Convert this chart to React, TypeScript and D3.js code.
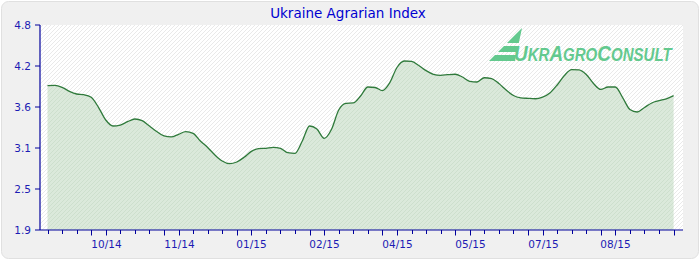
import React, { useEffect } from "react";
import * as d3 from "d3";

// Index values sampled along the period (two samples per axis tick)
const values: number[] = [
  3.941, 3.947, 3.919, 3.862, 3.824, 3.814, 3.777, 3.636, 3.456, 3.371,
  3.385, 3.432, 3.470, 3.446, 3.371, 3.293, 3.230, 3.216, 3.254, 3.291,
  3.268, 3.159, 3.067, 2.961, 2.876, 2.838, 2.862, 2.928, 3.013, 3.050,
  3.056, 3.070, 3.056, 2.994, 2.985, 3.159, 3.371, 3.329, 3.197, 3.322,
  3.598, 3.692, 3.697, 3.796, 3.923, 3.916, 3.871, 3.980, 4.199, 4.291,
  4.284, 4.227, 4.154, 4.103, 4.088, 4.097, 4.103, 4.064, 4.004, 3.994,
  4.054, 4.043, 3.972, 3.880, 3.803, 3.770, 3.762, 3.757, 3.779, 3.838,
  3.951, 4.086, 4.170, 4.166, 4.100, 3.972, 3.888, 3.923, 3.923, 3.774,
  3.605, 3.569, 3.633, 3.697, 3.729, 3.756, 3.800,
];

// One entry per axis tick (44 ticks); labelled ticks carry month/year
const tickLabels: string[] = [
  "", "", "", "", "10/14", "", "", "", "", "11/14",
  "", "", "", "", "01/15", "", "", "", "", "02/15",
  "", "", "", "", "04/15", "", "", "", "", "05/15",
  "", "", "", "", "07/15", "", "", "", "", "08/15",
  "", "", "", "",
];

const yTickValues: number[] = [1.9, 2.48, 3.06, 3.64, 4.22, 4.8];
const yTickLabels: string[] = ["1.9", "2.5", "3.1", "3.6", "4.2", "4.8"];

const title = "Ukraine Agrarian Index";
const logoParts: [string, boolean][] = [
  ["U", true], ["KR", false], ["A", true], ["GRO", false], ["C", true], ["ONSULT", false],
];

const W = 700;
const H = 260;
const plotLeft = 40;
const plotRight = 683;
const plotTop = 25;
const plotBottom = 230;

const axisColor = "#00009c";
const textColor = "#1c1cb4";
const font = "DejaVu Sans, Verdana, sans-serif";

export default function App() {
  useEffect(() => {
    document.body.style.margin = "0";
  }, []);

  const x = d3.scaleLinear().domain([0, values.length - 1]).range([47.5, 673.6]);
  const y = d3.scaleLinear().domain([1.9, 4.8]).range([plotBottom, plotTop]);

  const idx = values.map((_, i) => i);
  const area = d3
    .area<number>()
    .x((i) => x(i))
    .y0(plotBottom)
    .y1((i) => y(values[i]))
    .curve(d3.curveMonotoneX);
  const line = d3
    .line<number>()
    .x((i) => x(i))
    .y((i) => y(values[i]))
    .curve(d3.curveMonotoneX);

  // logo icon stripes
  const ax = 522, ay = 28, by = 61, bl = 489, br = 515;
  const xl = (yy: number) => ax - ((yy - ay) * (ax - bl)) / (by - ay);
  const xr = (yy: number) => ax - ((yy - ay) * (ax - br)) / (by - ay);
  const stripes = [
    [28, 43],
    [46, 52],
    [55, 61],
  ].map(([a, b]) =>
    a === ay
      ? `M${ax},${ay} L${xr(b)},${b} L${xl(b)},${b} Z`
      : `M${xl(a)},${a} L${xr(a)},${a} L${xr(b)},${b} L${xl(b)},${b} Z`
  );

  const sx = 0.86;

  return (
    <svg width={W} height={H} style={{ display: "block" }}>
      <defs>
        <pattern id="hatchW" width="4" height="4" patternUnits="userSpaceOnUse">
          <rect width="4" height="4" fill="#ffffff" />
          <path d="M-1,1 l2,-2 M0,4 l4,-4 M3,5 l2,-2" stroke="#e9e9e9" strokeWidth="1" />
        </pattern>
        <pattern id="hatchG" width="4" height="4" patternUnits="userSpaceOnUse">
          <rect width="4" height="4" fill="#dbe9db" />
          <path d="M-1,1 l2,-2 M0,4 l4,-4 M3,5 l2,-2" stroke="#cddfcd" strokeWidth="1" />
        </pattern>
      </defs>
      <rect x={1.5} y={1.5} width={W - 3} height={H - 3} rx={7} fill="#f0f0f0" stroke="#e0e0e0" />
      <text x={348} y={18} textAnchor="middle" fontFamily={font} fontSize={13.5} fill="#0000d0">
        {title}
      </text>
      <rect x={plotLeft} y={plotTop} width={plotRight - plotLeft} height={plotBottom - plotTop} fill="url(#hatchW)" />

      {/* logo */}
      <g fill="#63c98e">
        {stripes.map((d, i) => (
          <path key={i} d={d} />
        ))}
        <g transform={`translate(514,61) scale(${sx},1)`}>
          <text
            x={0}
            y={0}
            fontFamily="Liberation Sans, Arial, sans-serif"
            fontWeight="bold"
            fontStyle="italic"
          >
            {logoParts.map(([s, big], i) => (
              <tspan key={i} fontSize={big ? 22 : 17.5}>
                {s}
              </tspan>
            ))}
          </text>
        </g>
      </g>

      <path d={area(idx) || ""} fill="url(#hatchG)" />
      <path d={line(idx) || ""} fill="none" stroke="#2f7a3b" strokeWidth={1.3} />

      {/* y axis */}
      <line x1={plotLeft} x2={plotLeft} y1={plotTop} y2={plotBottom} stroke={axisColor} strokeWidth={1.2} />
      {yTickValues.map((v, i) => (
        <g key={i}>
          <line x1={plotLeft - 5} x2={plotLeft} y1={y(v)} y2={y(v)} stroke={axisColor} />
          <text
            x={31}
            y={y(v)}
            dy="0.35em"
            textAnchor="end"
            fontFamily={font}
            fontSize={10.5}
            fill={textColor}
          >
            {yTickLabels[i]}
          </text>
        </g>
      ))}

      {/* x axis */}
      <line x1={plotLeft} x2={plotRight} y1={plotBottom} y2={plotBottom} stroke={axisColor} strokeWidth={1.2} />
      {tickLabels.map((lab, i) => {
        const xx = Math.round(x(i * 2)) + 0.5;
        const long = i % 5 === 3 || i % 5 === 4;
        return (
          <g key={i}>
            <line x1={xx} x2={xx} y1={plotBottom} y2={plotBottom + (long ? 5.5 : 4)} stroke={axisColor} />
            {lab && (
              <text x={xx} y={248} textAnchor="middle" fontFamily={font} fontSize={10.5} fill={textColor}>
                {lab}
              </text>
            )}
          </g>
        );
      })}
    </svg>
  );
}
